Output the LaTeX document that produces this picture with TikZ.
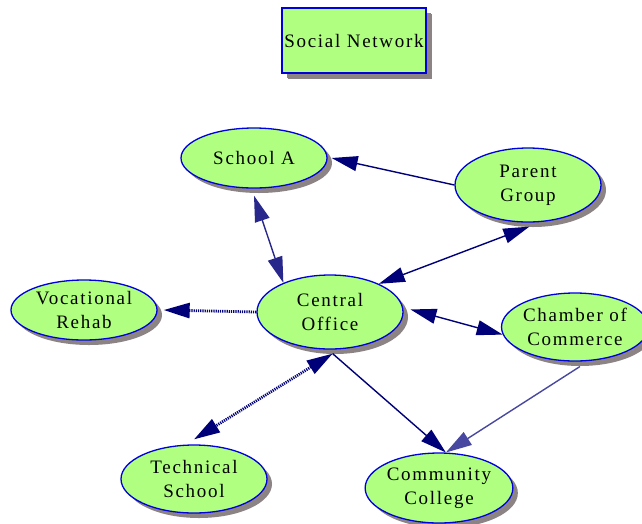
\documentclass[tikz,border=0pt]{standalone}
\usepackage{fontspec}
\setmainfont[LetterSpace=9]{Liberation Serif}
\usetikzlibrary{shapes.geometric,arrows.meta,shadows}

\definecolor{nodefill}{RGB}{176,255,128}
\definecolor{nodeborder}{RGB}{0,0,220}
\definecolor{shadowgray}{RGB}{140,132,132}
\definecolor{linknavy}{RGB}{0,0,120}
\definecolor{linkmid}{RGB}{40,40,140}
\definecolor{linklight}{RGB}{72,72,160}

\tikzset{
  base/.style={fill=nodefill, draw=nodeborder, line width=1.3pt,
    align=center, inner sep=0pt, font=\fontsize{19}{24}\selectfont,
    drop shadow={shadow xshift=5pt, shadow yshift=-5pt, fill=shadowgray, opacity=1}},
  oval/.style={base, ellipse, minimum width=146pt, minimum height=#1},
  oval/.default=62pt,
  titlebox/.style={base, rectangle, minimum width=144pt, minimum height=65pt,
    drop shadow={shadow xshift=6pt, shadow yshift=-6pt, fill=shadowgray, opacity=1}},
  link/.style={draw=linknavy, line width=1.4pt, -{Triangle[length=26pt,width=15pt]}},
  twoway/.style={link, {Triangle[length=26pt,width=15pt]}-{Triangle[length=26pt,width=15pt]}},
  dots/.style={line width=2.8pt, dash pattern=on 1.2pt off 1pt}
}

\begin{document}
\begin{tikzpicture}[x=1pt,y=-1pt]
  \useasboundingbox (0,0) rectangle (642,523);

  % title
  \node[titlebox] (title) at (354,40.5) {Social Network};

  % organisations
  \node[oval=60pt] (schoolA)    at (254,158) {School A};
  \node[oval=74pt] (parent)     at (528,185) {Parent\\Group};
  \node[oval=60pt] (vocational) at (84,310)  {Vocational\\Rehab};
  \node[oval=74pt] (central)    at (330,312) {Central\\Office};
  \node[oval=68pt] (chamber)    at (575,327) {Chamber of\\Commerce};
  \node[oval=68pt] (technical)  at (194,479) {Technical\\School};
  \node[oval=70pt] (college)    at (439,488) {Community\\College};

  % links
  \draw[twoway, draw=linkmid] ([yshift=-7pt]schoolA.south) -- (central.148);
  \draw[link] (parent.west) -- ([xshift=4pt]schoolA.east);
  \draw[twoway] (central.30) -- ([yshift=-4pt]parent.-88);
  \draw[link, dots] (central.west) -- ([xshift=6pt]vocational.east);
  \draw[twoway] ([xshift=7pt]central.2) -- (chamber.186);
  \draw[twoway, dots] ([yshift=-4pt]central.-86) -- ([yshift=5pt]technical.north);
  \draw[link] ([yshift=-4pt]central.-86) -- (college.79);
  \draw[link, draw=linklight] ([yshift=-5pt]chamber.-82) -- (college.79);
\end{tikzpicture}
\end{document}
